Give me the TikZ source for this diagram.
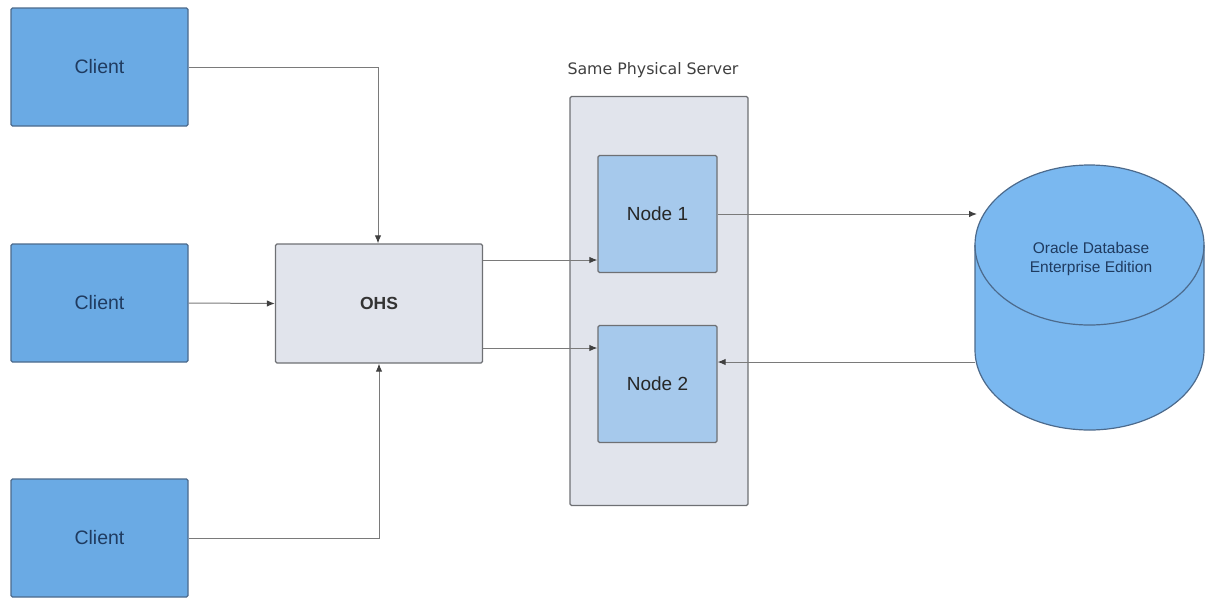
\documentclass[tikz,border=0pt]{standalone}
\usepackage{fontspec}
\setmainfont{Liberation Sans}
\newfontfamily\labelfont{DejaVu Sans}
\usetikzlibrary{arrows.meta}
\definecolor{clientfill}{HTML}{6AAAE4}
\definecolor{clientline}{HTML}{4C6A8C}
\definecolor{ohsfill}{HTML}{E1E4EC}
\definecolor{ohsline}{HTML}{6E7074}
\definecolor{nodefill}{HTML}{A6C9EC}
\definecolor{dbfill}{HTML}{7AB8F0}
\definecolor{textblue}{HTML}{1F3B60}
\definecolor{conn}{HTML}{7A7A7A}
\tikzset{
  clientbox/.style={draw=clientline, line width=1.3pt, fill=clientfill, rounded corners=1.5pt, minimum width=177pt, minimum height=118pt, inner sep=0pt, font=\fontsize{19.5}{22}\selectfont, text=textblue},
  ohsbox/.style={draw=ohsline, line width=1.3pt, fill=ohsfill, rounded corners=1.5pt, minimum width=207pt, minimum height=119pt, inner sep=0pt, font=\bfseries\fontsize{17.5}{20}\selectfont, text=black!80},
  serverbox/.style={draw=ohsline, line width=1.3pt, fill=ohsfill, rounded corners=1.5pt, inner sep=0pt},
  nodebox/.style={draw=ohsline, line width=1.3pt, fill=nodefill, rounded corners=1.5pt, minimum width=119pt, minimum height=117pt, inner sep=0pt, font=\fontsize{19}{22}\selectfont, text=black!85},
  link/.style={draw=conn, line width=1pt, -{Latex[length=8pt,width=6.5pt,color=black!75]}}
}
\begin{document}
\begin{tikzpicture}[x=1pt,y=-1pt]
\useasboundingbox (0,0) rectangle (1205,598);
% clients
\node[clientbox] (c1) at (99.5,67) {Client};
\node[clientbox] (c2) at (99.5,303) {Client};
\node[clientbox] (c3) at (99.5,538) {Client};
% OHS
\node[ohsbox] (ohs) at (379,303.5) {OHS};
% server container
\node[serverbox, minimum width=178pt, minimum height=409pt] (srv) at (659,301) {};
\node[font=\labelfont\fontsize{15.8}{19}\selectfont, text=black!75] (srvlabel) at (653,70) {Same Physical Server};
% nodes
\node[nodebox] (n1) at (657.5,214) {Node 1};
\node[nodebox] (n2) at (657.5,384) {Node 2};
% database cylinder
\filldraw[draw=clientline, line width=1.2pt, fill=dbfill]
  (975,245) -- (975,350) arc[start angle=180, end angle=0, x radius=114.5, y radius=80]
  -- (1204,245) arc[start angle=0, end angle=-180, x radius=114.5, y radius=80] -- cycle;
\draw[draw=clientline, line width=1.2pt] (975,245) arc[start angle=180, end angle=0, x radius=114.5, y radius=80];
\coordinate (dbtop) at (977,214);
\coordinate (dbbot) at (975,362);
\node[font=\fontsize{15.5}{19}\selectfont, text=textblue, align=center] (dblabel) at (1091,259) {Oracle Database\\Enterprise Edition};
% connectors
\draw[link] (c1.east) -- (378,67) -- (ohs.north -| 378,0);
\draw[link] (c2.east) -- (ohs.west);
\draw[link] (c3.east) -- (379,538) -- (ohs.south -| 379,0);
\draw[link] (ohs.east |- 0,260) -- (n1.west |- 0,260);
\draw[link] (ohs.east |- 0,348) -- (n2.west |- 0,348);
\draw[link] (n1.east |- 0,214) -- (dbtop);
\draw[link] (dbbot) -- (n2.east |- 0,362);
\end{tikzpicture}
\end{document}
